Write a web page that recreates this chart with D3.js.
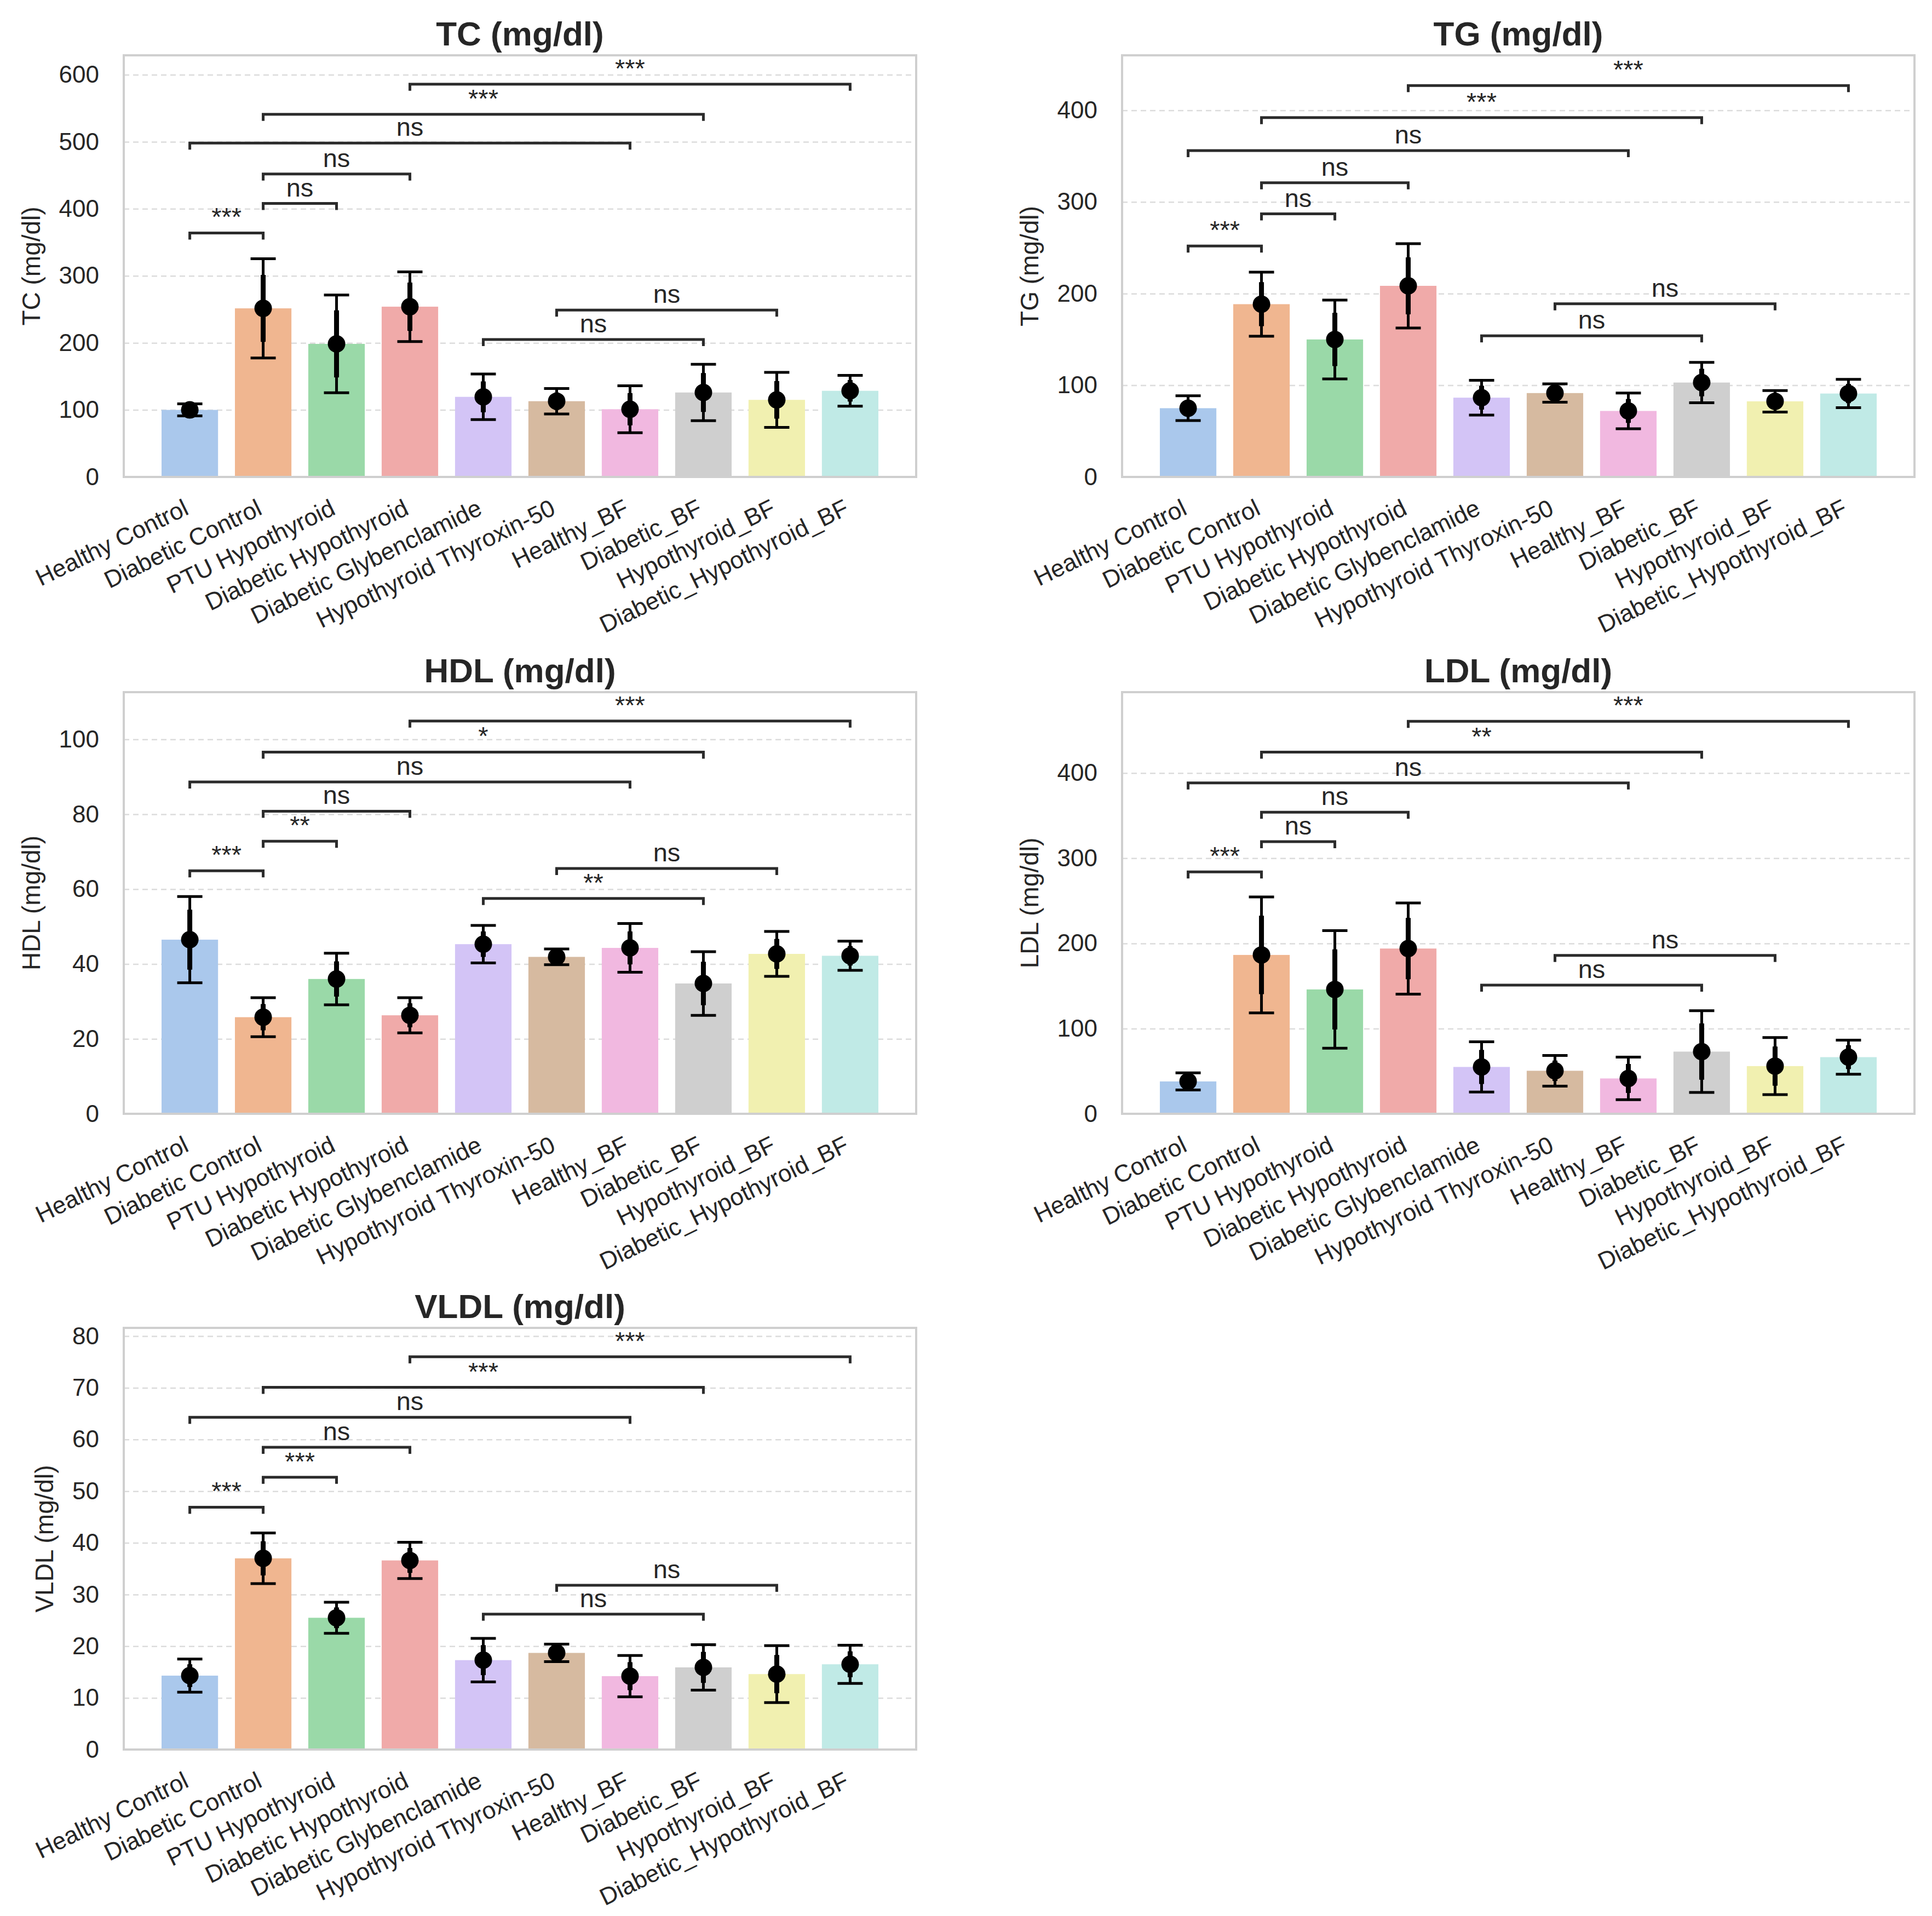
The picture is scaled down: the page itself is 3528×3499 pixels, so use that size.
<!DOCTYPE html>
<html>
<head>
<meta charset="utf-8">
<script src="https://cdn.jsdelivr.net/npm/d3@7/dist/d3.min.js"></script>
<style>
  body { margin: 0; background: #fff; }
  text { font-family: "Liberation Sans", Arial, sans-serif; }
</style>
</head>
<body>
<div id="chart"></div>
<script>
const groups = [
  "Healthy Control", "Diabetic Control", "PTU Hypothyroid", "Diabetic Hypothyroid",
  "Diabetic Glybenclamide", "Hypothyroid Thyroxin-50", "Healthy_BF", "Diabetic_BF",
  "Hypothyroid_BF", "Diabetic_Hypothyroid_BF"
];
const colors = ["#aac8ec", "#f0b690", "#9ad9a8", "#f0aaa9", "#d3c4f6",
                "#d6baa0", "#f1b8e0", "#cfcfcf", "#f1f0b0", "#c0eae6"];

// comparison pairs (same in every panel)
const pairs = [[0, 1], [1, 2], [1, 3], [0, 6], [1, 7], [3, 9], [4, 7], [5, 8]];

// TC
const tcMean = [100, 251.5, 198.5, 254, 119.5, 113, 101, 126, 115, 128.5];
const tcSd = [9, 74, 73, 52, 34, 19, 35, 42, 41, 23];
const tcCi = [6, 50, 50, 36, 23, 13, 24, 29, 28, 16];
const tcTicks = [0, 100, 200, 300, 400, 500, 600];
const tcSigY = [364, 408, 452, 498, 541, 586, 205, 249];
const tcSig = ["***", "ns", "ns", "ns", "***", "***", "ns", "ns"];

// TG
const tgMean = [75, 188.5, 150, 208.5, 86.5, 91.5, 72, 103, 82.5, 91];
const tgSd = [13.5, 35, 43, 46, 19, 10, 19.5, 22, 11.7, 15.5];
const tgCi = [9, 24, 29, 31, 13, 7, 13, 15, 8, 10.5];
const tgTicks = [0, 100, 200, 300, 400];
const tgSigY = [252, 287, 321, 356, 392, 427, 154, 189];
const tgSig = ["***", "ns", "ns", "ns", "***", "***", "ns", "ns"];

// HDL
const hdlMean = [46.5, 25.8, 36, 26.3, 45.3, 41.9, 44.3, 34.8, 42.7, 42.2];
const hdlSd = [11.5, 5.2, 6.9, 4.7, 5, 2.1, 6.5, 8.5, 6, 3.9];
const hdlCi = [8, 3.5, 4.7, 3.2, 3.4, 1.4, 4.4, 5.8, 4, 2.6];
const hdlTicks = [0, 20, 40, 60, 80, 100];
const hdlSigY = [64.9, 72.8, 80.8, 88.6, 96.6, 104.9, 57.5, 65.5];
const hdlSig = ["***", "**", "ns", "ns", "*", "***", "**", "ns"];

// LDL
const ldlMean = [38, 186.5, 146, 194, 55, 50.5, 41.5, 73, 56, 66.5];
const ldlSd = [10, 68, 69, 53.5, 29.5, 18, 25, 48, 33.5, 20];
const ldlCi = [7, 46, 47, 36, 20, 12, 17, 33, 23, 14];
const ldlTicks = [0, 100, 200, 300, 400];
const ldlSigY = [284, 319.5, 354, 388.5, 424.6, 460.8, 151, 186];
const ldlSig = ["***", "ns", "ns", "ns", "**", "***", "ns", "ns"];

// VLDL
const vldlMean = [14.3, 37, 25.5, 36.6, 17.3, 18.7, 14.2, 15.9, 14.6, 16.5];
const vldlSd = [3.2, 4.9, 3, 3.5, 4.2, 1.7, 4, 4.4, 5.5, 3.7];
const vldlCi = [2.2, 3.3, 2, 2.4, 2.9, 1.2, 2.7, 3, 3.7, 2.5];
const vldlTicks = [0, 10, 20, 30, 40, 50, 60, 70, 80];
const vldlSigY = [46.9, 52.7, 58.5, 64.3, 70.1, 76, 26.2, 31.8];
const vldlSig = ["***", "***", "ns", "ns", "***", "***", "ns", "ns"];

const panels = [
  { title: "TC (mg/dl)", mean: tcMean, sd: tcSd, ci: tcCi, ticks: tcTicks, sigY: tcSigY, sig: tcSig, ymax: 629, col: 0, row: 0 },
  { title: "TG (mg/dl)", mean: tgMean, sd: tgSd, ci: tgCi, ticks: tgTicks, sigY: tgSigY, sig: tgSig, ymax: 460, col: 1, row: 0 },
  { title: "HDL (mg/dl)", mean: hdlMean, sd: hdlSd, ci: hdlCi, ticks: hdlTicks, sigY: hdlSigY, sig: hdlSig, ymax: 112.6, col: 0, row: 1 },
  { title: "LDL (mg/dl)", mean: ldlMean, sd: ldlSd, ci: ldlCi, ticks: ldlTicks, sigY: ldlSigY, sig: ldlSig, ymax: 495, col: 1, row: 1 },
  { title: "VLDL (mg/dl)", mean: vldlMean, sd: vldlSd, ci: vldlCi, ticks: vldlTicks, sigY: vldlSigY, sig: vldlSig, ymax: 81.6, col: 0, row: 2 }
];

const width = 3528,
  height = 3499;
const colLeft = [226, 2049],
  rowTop = [101, 1264, 2425];
const W = 1447,
  H = 770;

const svg = d3.select("#chart").append("svg")
  .attr("width", width).attr("height", height)
  .style("background", "#fff");

panels.forEach(drawPanel);

function drawPanel(p) {
  const g = svg.append("g").attr("transform", `translate(${colLeft[p.col]},${rowTop[p.row]})`);

  const x = d3.scalePoint().domain(d3.range(groups.length)).range([0, W]).padding(0.9);
  const y = d3.scaleLinear().domain([0, p.ymax]).range([H, 0]);
  const bw = x.step() * 0.77;

  // dashed grid
  g.append("g")
    .call(d3.axisLeft(y).tickValues(p.ticks.filter((t) => t > 0)).tickSize(-W).tickFormat(""))
    .call((a) => a.select(".domain").remove())
    .selectAll("line")
    .attr("stroke", "#dcdcdc")
    .attr("stroke-width", 2.5)
    .attr("stroke-dasharray", "10,7");

  // bars
  g.selectAll("rect.bar")
    .data(p.mean)
    .join("rect")
    .attr("class", "bar")
    .attr("x", (d, i) => x(i) - bw / 2)
    .attr("width", bw)
    .attr("y", (d) => y(d))
    .attr("height", (d) => H - y(d))
    .attr("fill", (d, i) => colors[i]);

  // sd error bars with caps
  const err = g.append("g").attr("stroke", "#000").attr("stroke-width", 5);
  p.mean.forEach((m, i) => {
    const cx = x(i);
    err.append("line").attr("x1", cx).attr("x2", cx).attr("y1", y(m + p.sd[i])).attr("y2", y(m - p.sd[i]));
    [m + p.sd[i], m - p.sd[i]].forEach((v) => {
      err.append("line").attr("x1", cx - 23).attr("x2", cx + 23).attr("y1", y(v)).attr("y2", y(v));
    });
    // thicker interval of the point estimate
    err.append("line").attr("stroke-width", 9)
      .attr("x1", cx).attr("x2", cx).attr("y1", y(m + p.ci[i])).attr("y2", y(m - p.ci[i]));
  });

  // mean points
  g.selectAll("circle.pt")
    .data(p.mean)
    .join("circle")
    .attr("class", "pt")
    .attr("cx", (d, i) => x(i))
    .attr("cy", (d) => y(d))
    .attr("r", 16)
    .attr("fill", "#000");

  // frame
  g.append("rect").attr("width", W).attr("height", H)
    .attr("fill", "none").attr("stroke", "#cfcfcf").attr("stroke-width", 4);

  // significance brackets
  const br = g.append("g");
  pairs.forEach(([a, b], k) => {
    const yy = y(p.sigY[k]);
    br.append("path")
      .attr("d", `M${x(a)},${yy + 12}V${yy}H${x(b)}V${yy + 12}`)
      .attr("fill", "none")
      .attr("stroke", "#2b2b2b")
      .attr("stroke-width", 5);
    br.append("text")
      .attr("x", (x(a) + x(b)) / 2)
      .attr("y", yy - 13)
      .attr("text-anchor", "middle")
      .attr("font-size", 47)
      .attr("fill", "#262626")
      .text(p.sig[k]);
  });

  // y axis
  const ya = g.append("g")
    .call(d3.axisLeft(y).tickValues(p.ticks).tickSize(0).tickPadding(45).tickFormat(d3.format("d")));
  ya.select(".domain").remove();
  ya.selectAll("text").attr("font-size", 44).attr("fill", "#262626").attr("font-family", null);
  let maxW = 0;
  ya.selectAll("text").each(function () {
    maxW = Math.max(maxW, this.getComputedTextLength());
  });

  // x axis
  const xa = g.append("g").attr("transform", `translate(0,${H})`)
    .call(d3.axisBottom(x).tickSize(0).tickFormat((i) => groups[i]));
  xa.select(".domain").remove();
  xa.selectAll("text")
    .attr("font-size", 44)
    .attr("fill", "#262626")
    .attr("font-family", null)
    .attr("x", 0)
    .attr("y", 0)
    .attr("dy", null)
    .attr("text-anchor", "end")
    .attr("transform", "translate(0,67) rotate(-26)");

  // axis label
  g.append("text")
    .attr("transform", `translate(${-45 - maxW - 51},${H / 2}) rotate(-90)`)
    .attr("text-anchor", "middle")
    .attr("dominant-baseline", "central")
    .attr("font-size", 46)
    .attr("fill", "#262626")
    .text(p.title);

  // title
  g.append("text")
    .attr("x", W / 2)
    .attr("y", -18)
    .attr("text-anchor", "middle")
    .attr("font-size", 62)
    .attr("font-weight", "bold")
    .attr("fill", "#262626")
    .text(p.title);
}
</script>
</body>
</html>
